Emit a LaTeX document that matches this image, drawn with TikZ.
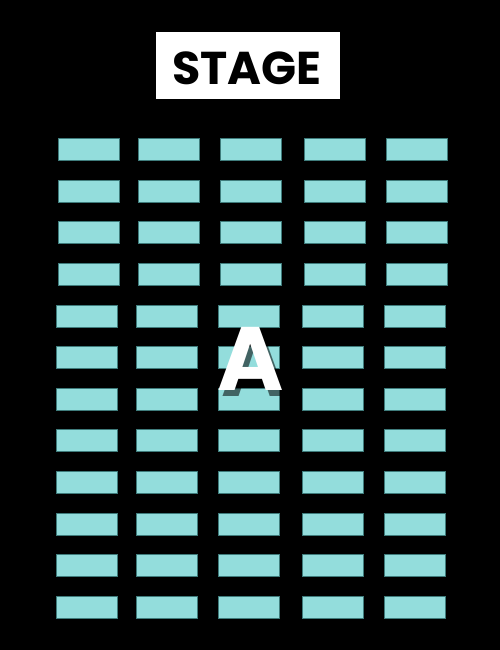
\documentclass[tikz,border=0pt]{standalone}
\usepackage{fontspec}
\newfontfamily\popfont{Poppins}[BoldFont={* Bold}]
\definecolor{seatfill}{HTML}{93DDDC}
\definecolor{seatedge}{HTML}{3F7C7C}
\begin{document}
\begin{tikzpicture}[x=1pt,y=-1pt,
  seat/.style={fill=seatfill,draw=seatedge,line width=0.6pt},
  bigtext/.style={inner sep=0pt,anchor=base,font=\popfont\bfseries}]
\useasboundingbox (0,0) rectangle (500,650);
\fill[black] (0,0) rectangle (500,650);
% stage
\node[fill=white,minimum width=184pt,minimum height=67pt,inner sep=0pt,anchor=north west] (stagebox) at (156,32) {};
\node[bigtext,font=\popfont\bfseries\fontsize{46}{46}\selectfont,text=black] (stage) at (247,85) {STAGE};
% seats: rows 1-4
\foreach \r in {0,...,3}{
  \foreach \c/\x in {1/58,2/138,3/220,4/304,5/386}{
    \pgfmathsetmacro\yy{138.3+41.64*\r}
    \draw[seat] (\x,\yy) rectangle ++(61,22);
  }
}
% seats: rows 5-12
\foreach \r in {4,...,11}{
  \foreach \c/\x in {1/56,2/136,3/218,4/302,5/384}{
    \pgfmathsetmacro\yy{138.3+41.64*\r}
    \draw[seat] (\x,\yy) rectangle ++(61,22);
  }
}
% section label with shadow
\node[bigtext,font=\popfont\bfseries\fontsize{90}{90}\selectfont,text=black,opacity=0.55] (ashadow) at (255,396) {A};
\node[bigtext,font=\popfont\bfseries\fontsize{90}{90}\selectfont,text=white] (alabel) at (251,390.7) {A};
\end{tikzpicture}
\end{document}
